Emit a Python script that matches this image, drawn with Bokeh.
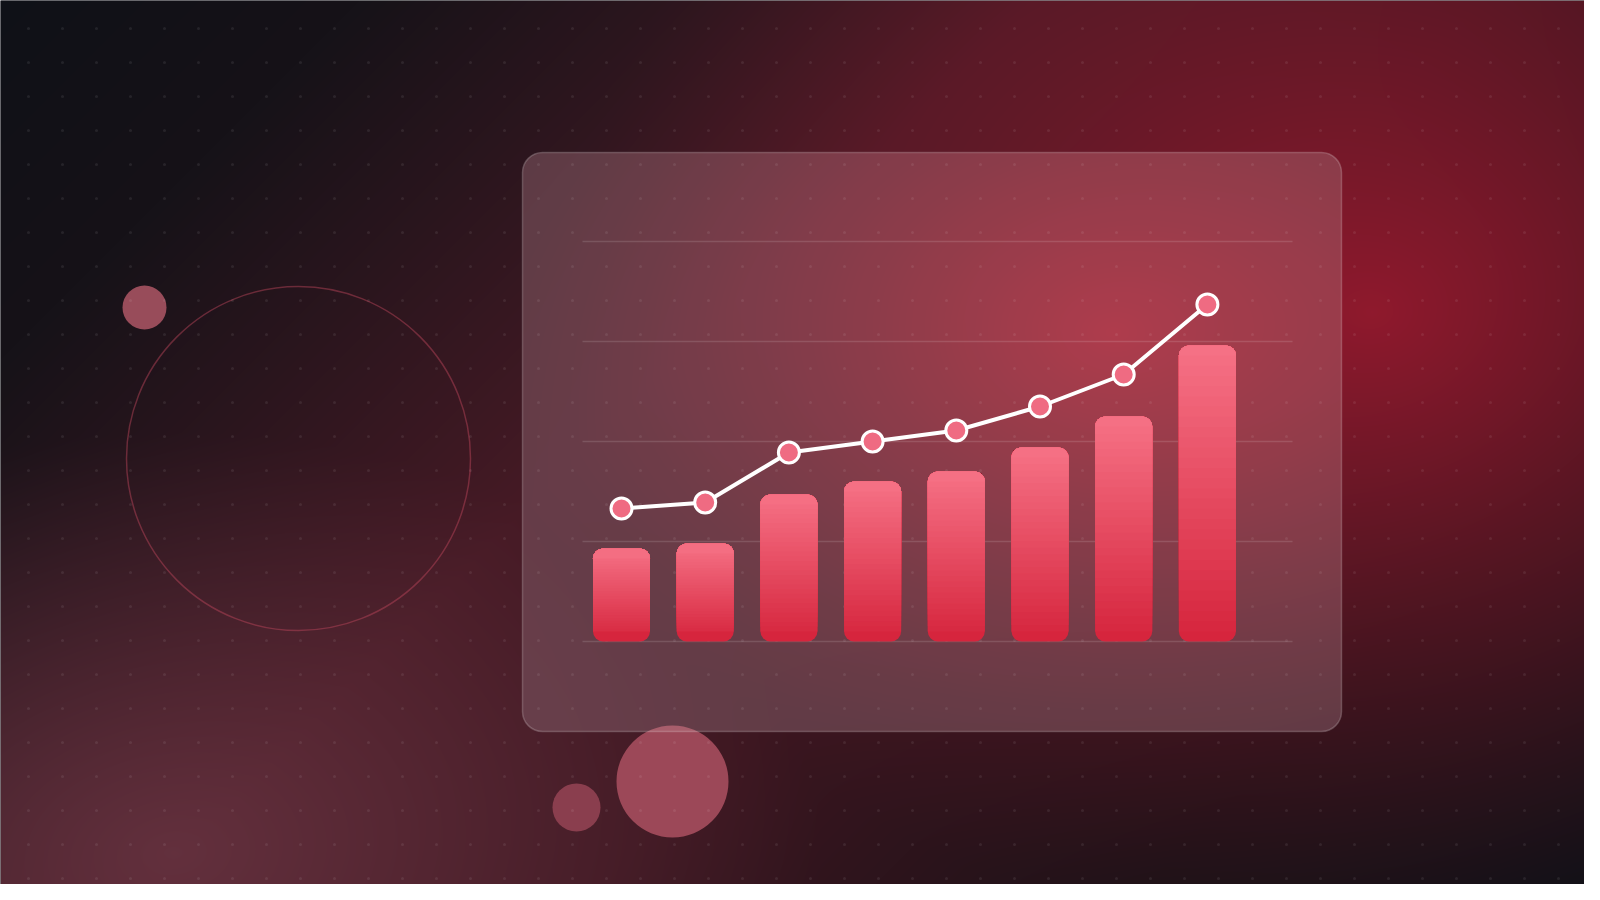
import numpy as np
from bokeh.plotting import figure
from bokeh.models import Range1d
from bokeh.embed import file_html
from bokeh.resources import INLINE

# ---------------- data ----------------
positions = [0, 1, 2, 3, 4, 5, 6, 7]
bar_values = [18.6, 19.6, 29.4, 32.0, 34.0, 38.8, 45.0, 59.2]
line_values = [26.6, 27.8, 37.8, 40.0, 42.2, 47.0, 53.4, 67.4]
grid_levels = [0, 20, 40, 60, 80]

# ---------------- layout (page pixels) ----------------
W, H = 1584, 884
OX, OY = 8, 8
PAGE_H = 900


def up(Yv):
    return PAGE_H - Yv


p = figure(width=W, height=H,
           x_range=Range1d(OX, OX + W),
           y_range=Range1d(PAGE_H - OY - H, PAGE_H - OY),
           output_backend="svg", toolbar_location=None, min_border=0,
           x_axis_location=None, y_axis_location=None)
p.grid.visible = False
p.outline_line_color = None
p.background_fill_color = "#111318"
p.border_fill_color = "#111318"

# data ranges: bar centre spacing 83.7px starting at x=629, 5px per unit, baseline at Y=649
STEP, X0 = 83.7, 629.0
PX_PER_UNIT, BASE_UP = 5.0, up(649)
p.extra_x_ranges = {"dx": Range1d((OX - X0) / STEP, (OX + W - X0) / STEP)}
p.extra_y_ranges = {"dy": Range1d((PAGE_H - OY - H - BASE_UP) / PX_PER_UNIT,
                                  (PAGE_H - OY - BASE_UP) / PX_PER_UNIT)}

# ---------------- background image ----------------
cols = np.arange(W) + OX + 0.5
rowsY = PAGE_H - (np.arange(H) + (PAGE_H - OY - H) + 0.5)
X, Y = np.meshgrid(cols, rowsY)

pl = ((X - 800) * 0.7071 + (Y - 450) * 0.7071) / 1768.0 + 0.5
stops = [0.0, 0.15, 0.42, 0.6, 0.82, 1.0]
sc = np.array([[15, 17, 23], [22, 18, 24], [70, 26, 37], [60, 22, 32],
               [30, 18, 24], [15, 17, 23]], float)
C = np.stack([np.interp(pl, stops, sc[:, k]) for k in range(3)], axis=-1)


def blend(C, cx, cy, rx, ry, col, A, k, m=1.0):
    d = np.hypot((X - cx) / rx, (Y - cy) / ry)
    a = A * np.clip(1 - d, 0, 1) ** k * m
    return C * (1 - a[..., None]) + np.array(col, float) * a[..., None]


C = blend(C, 1380, 320, 820, 640, (160, 26, 48), 0.85, 1.3)
C = blend(C, 180, 860, 650, 420, (112, 58, 72), 0.7, 1.1)

# card (frosted): mask of rounded rectangle
cx0, cx1, cy0, cy1, rr = 530, 1349, 160, 739, 20
ccx, ccy = (cx0 + cx1) / 2, (cy0 + cy1) / 2
hw, hh = (cx1 - cx0) / 2, (cy1 - cy0) / 2
qx = np.maximum(np.abs(X - ccx) - (hw - rr), 0)
qy = np.maximum(np.abs(Y - ccy) - (hh - rr), 0)
mask = np.clip(rr - np.hypot(qx, qy) + 0.5, 0, 1)
frost = 0.6 * mask
C = C * (1 - frost[..., None]) + np.array((88, 40, 54), float) * frost[..., None]
C = blend(C, 1120, 340, 640, 450, (205, 35, 55), 0.62, 1.4, mask)

img = np.empty((H, W), dtype=np.uint32)
view = img.view(dtype=np.uint8).reshape((H, W, 4))
view[..., 0] = np.clip(C[..., 0], 0, 255).astype(np.uint8)
view[..., 1] = np.clip(C[..., 1], 0, 255).astype(np.uint8)
view[..., 2] = np.clip(C[..., 2], 0, 255).astype(np.uint8)
view[..., 3] = 255
p.image_rgba(image=[img], x=OX, y=PAGE_H - OY - H, dw=W, dh=H)

# ---------------- decorative shapes ----------------
p.circle(x=306, y=up(466), radius=172, fill_color=None,
         line_color="#c0485e", line_alpha=0.45, line_width=1.5)
p.circle(x=152, y=up(315), radius=22, fill_color="#984c5a", line_color=None)
p.circle(x=584, y=up(815), radius=24, fill_color="#8a3e4e", line_color=None)
p.circle(x=680, y=up(789), radius=56, fill_color="#9c4858", line_color=None)

# card outline + white sheen
p.quad(left=cx0, right=cx1, bottom=up(cy1), top=up(cy0), border_radius=rr,
       fill_color="white", fill_alpha=0.12, line_color="white", line_alpha=0.2, line_width=1.5)

# dot grid
dx = np.arange(2, 1600, 34)
dy = np.arange(2, 900, 34)
DX, DY = np.meshgrid(dx, dy)
DX = DX.ravel(); DY = DY.ravel()
keep = (DX > OX) & (DX < OX + W) & (DY > OY) & (DY < OY + H)
p.scatter(DX[keep], up(DY[keep]), size=3, fill_color="white", fill_alpha=0.08, line_color=None)

# ---------------- chart ----------------
p.segment(x0=[positions[0] - 0.466] * len(grid_levels), y0=grid_levels,
          x1=[positions[-1] + 1.017] * len(grid_levels), y1=grid_levels,
          line_color="white", line_alpha=0.13, line_width=1.5,
          x_range_name="dx", y_range_name="dy")

BW = 57 / STEP
RAD = 10                      # corner radius in px
RU = RAD / PX_PER_UNIT        # same in value units
M = 28
top_col = np.array([246, 114, 134], float)
bot_col = np.array([213, 36, 60], float)


def hexc(c):
    c = np.clip(np.round(c), 0, 255).astype(int)
    return "#%02x%02x%02x" % tuple(c)


def grad(f):
    return hexc(bot_col + (top_col - bot_col) * f)


# base bar (all corners rounded), bottom colour
p.vbar(x=positions, bottom=0, top=bar_values, width=BW, fill_color=grad(RU / 2 / max(bar_values)),
       line_color=None, border_radius=RAD, x_range_name="dx", y_range_name="dy")

# lighter overlays anchored at the top of each bar -> vertical gradient
xs, bots, tops, colors = [], [], [], []
for k in range(M):
    for i, h in enumerate(bar_values):
        lo, hi = RU, h - RU
        b = lo + (hi - lo) * k / (M - 1)
        stepv = (hi - lo) / (M - 1) if k < M - 1 else RU
        xs.append(positions[i])
        bots.append(b)
        tops.append(h)
        colors.append(grad((b + stepv / 2) / h))
p.vbar(x=xs, bottom=bots, top=tops, width=BW, fill_color=colors, line_color=None,
       border_radius=(RAD, RAD, 0, 0), x_range_name="dx", y_range_name="dy")

p.line(positions, line_values, line_color="white", line_width=4,
       line_join="round", x_range_name="dx", y_range_name="dy")
p.scatter(positions, line_values, size=21, fill_color="#ef6b82",
          line_color="white", line_width=3, x_range_name="dx", y_range_name="dy")

open("out.html", "w").write(file_html(p, INLINE))
